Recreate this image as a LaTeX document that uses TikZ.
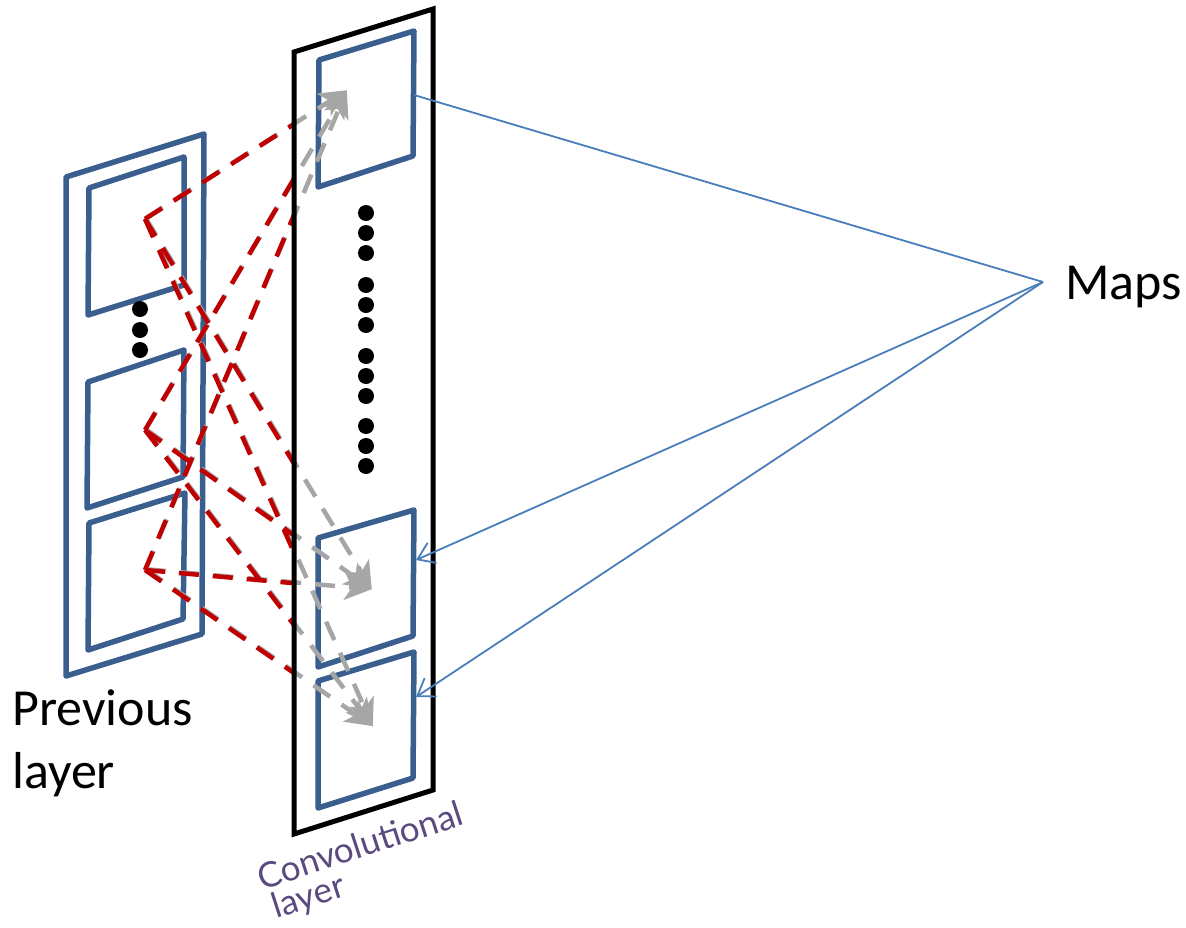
\documentclass[tikz,border=0pt]{standalone}
\usepackage{fontspec}
\setmainfont{Carlito}
\newfontfamily\handfont{Lato}
\usetikzlibrary{arrows.meta}
\definecolor{panelblue}{HTML}{3A5F8F}
\definecolor{thinblue}{HTML}{4A7EBB}
\definecolor{dashred}{HTML}{C00000}
\definecolor{dashgray}{HTML}{A6A6A6}
\definecolor{labelpurple}{HTML}{5B4A7F}
\tikzset{
  panel/.style={draw=panelblue,line width=5.5pt,line join=round},
  frame/.style={draw=black,line width=5pt,line join=miter},
  dotmark/.style={circle,fill=black,inner sep=0pt,minimum size=16pt},
  grayconn/.style={draw=dashgray,line width=4.5pt,dash pattern=on 20pt off 14pt,-{Stealth[length=27pt,width=26pt,inset=7pt]}},
  redconn/.style={draw=dashred,line width=4.5pt,dash pattern=on 20pt off 14pt},
  thinconn/.style={draw=thinblue,line width=1.8pt},
  thinarrow/.style={thinconn,-{Straight Barb[length=16pt,width=22pt,line width=1.8pt]}},
  biglabel/.style={font=\fontsize{52}{60}\selectfont,inner sep=0pt,anchor=base west,align=left},
  handlabel/.style={font=\handfont\fontsize{35}{40}\selectfont,text=labelpurple,inner sep=0pt,rotate=18}
}
\begin{document}
\begin{tikzpicture}[x=1pt,y=-1pt]
\useasboundingbox (0,0) rectangle (1186,927);
% previous layer
\draw[panel] (66,177) -- (204,134) -- (202,634) -- (66,676) -- cycle;
\draw[panel] (89,188) -- (184,157) -- (184,285) -- (88,315) -- cycle;
\draw[panel] (88,382) -- (184,350) -- (183,477) -- (87,508) -- cycle;
\draw[panel] (89,523) -- (185,493) -- (183,619) -- (88,650) -- cycle;
\foreach \n/\y in {a/309,b/330,c/350}
  \node[dotmark] (left\n) at (140,\y) {};
% convolutional layer panels
\draw[panel] (319,60) -- (414,31) -- (413,156) -- (318,187) -- cycle;
\draw[panel] (318,538) -- (414,510) -- (413,636) -- (318,667) -- cycle;
\draw[panel] (318,681) -- (414,652) -- (413,778) -- (318,808) -- cycle;
\foreach \y in {213,233,253,285,305,325,356,376,396,426,446,466}
  \node[dotmark] (mid\y) at (366,\y) {};
% connection end points
\coordinate (sA) at (145,219);
\coordinate (sB) at (145,430);
\coordinate (sC) at (145,570);
\coordinate (tA) at (346,91);
\coordinate (tB) at (371,590);
\coordinate (tC) at (372,727);
% gray lines with arrow tips
\foreach \s in {A,B,C}
  \foreach \t in {A,B,C}
    \draw[grayconn,transform canvas={shift={(0.8pt,0.8pt)}}] (s\s) -- (t\t);
% red part, up to the convolutional layer
\begin{scope}
  \clip (0,0) rectangle (293,927);
  \foreach \s in {A,B,C}
    \foreach \t in {A,B,C}
      \draw[redconn] (s\s) -- (t\t);
\end{scope}
% black frame
\draw[frame] (294,52) -- (433,9) -- (433,790) -- (294,834) -- cycle;
% maps
\node[biglabel] (maps) at (1065,299) {Maps};
\coordinate (apex) at (1043,282);
\coordinate (m1) at (414,95);
\coordinate (m2) at (416,560);
\coordinate (m3) at (416,697);
\draw[thinconn] (apex) -- (m1);
\draw[thinarrow] (apex) -- (m2);
\draw[thinarrow] (apex) -- (m3);
% labels
\node[biglabel] (prev) at (12,725) {Previous};
\node[biglabel] (lay) at (12,788) {layer};
\node[handlabel] (conv) at (360,845) {Convolutional};
\node[handlabel] (convb) at (309,898) {layer};
\end{tikzpicture}
\end{document}
